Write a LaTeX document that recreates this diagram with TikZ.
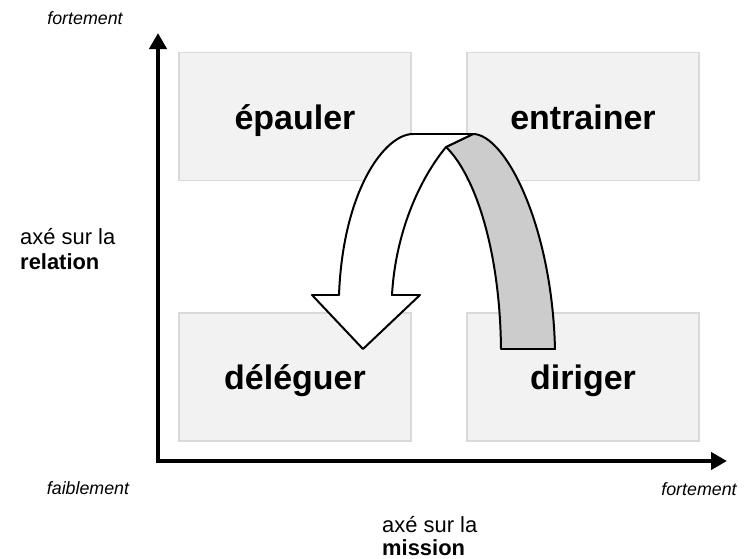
\documentclass[tikz,border=0pt]{standalone}
\usepackage{fontspec}
\setmainfont{Liberation Sans}
\usetikzlibrary{arrows.meta}
\definecolor{quadfill}{HTML}{F2F2F2}
\definecolor{quadline}{HTML}{D9D9D9}
\definecolor{backside}{HTML}{CCCCCC}

\begin{document}
\begin{tikzpicture}[
            x=0.03cm, y=-0.03cm,
            quad/.style={rectangle,draw=quadline,line width=1.3pt,fill=quadfill,
                minimum width=6.96cm,minimum height=3.83cm,inner sep=0pt,
                text height=27pt,text depth=5pt,
                font=\fontsize{29}{34}\selectfont\bfseries},
            axis/.style={line width=4.2pt,line join=miter,
                {Triangle[length=0.48cm,width=0.51cm]}-{Triangle[length=0.48cm,width=0.51cm]}},
            weak/.style={inner sep=0pt,font=\fontsize{15.2}{18}\selectfont\itshape},
            axislabel/.style={anchor=west,align=left,inner sep=0pt,
                font=\fontsize{18.7}{#1}\selectfont},
            axislabel/.default=22.1,
            turn/.style={draw=black,line width=1.7pt,line join=round,fill=#1},
            turn/.default=white
        ]
        \useasboundingbox (0,0) rectangle (753,559);
        \node[quad] (epauler)   at (295,116.5) {épauler};
        \node[quad] (entrainer) at (583,116.5) {entrainer};
        \node[quad] (deleguer)  at (295,377)   {déléguer};
        \node[quad] (diriger)   at (583,377)   {diriger};
        \coordinate (ytop)   at (158,33);
        \coordinate (origin) at (158,461);
        \coordinate (xend)   at (727,461);
        \draw[axis] (ytop) -- (origin) -- (xend);
        \filldraw[turn=backside] (473,134) .. controls (505,134) and (552,225) .. (555,349)
            -- (501,349) .. controls (500,250) and (475,175) .. (446,147) -- cycle;
        \filldraw[turn] (413,134) -- (473,134) -- (446,147)
            .. controls (415,185) and (395,240) .. (392,295) -- (420,295) -- (363,349)
            -- (312,295) -- (339,295) .. controls (343,190) and (385,134) .. (413,134) -- cycle;
        \node[weak] (ystrong) at (85,18)  {fortement};
        \node[weak] (xweak)   at (88,488) {faiblement};
        \node[weak] (xstrong) at (699,489) {fortement};
        \node[axislabel] (ylabel) at (20,249)  {axé sur la\\\textbf{relation}};
        \node[axislabel=20.4] (xlabel) at (382,536) {axé sur la\\\textbf{mission}};
    \end{tikzpicture}
\end{document}
